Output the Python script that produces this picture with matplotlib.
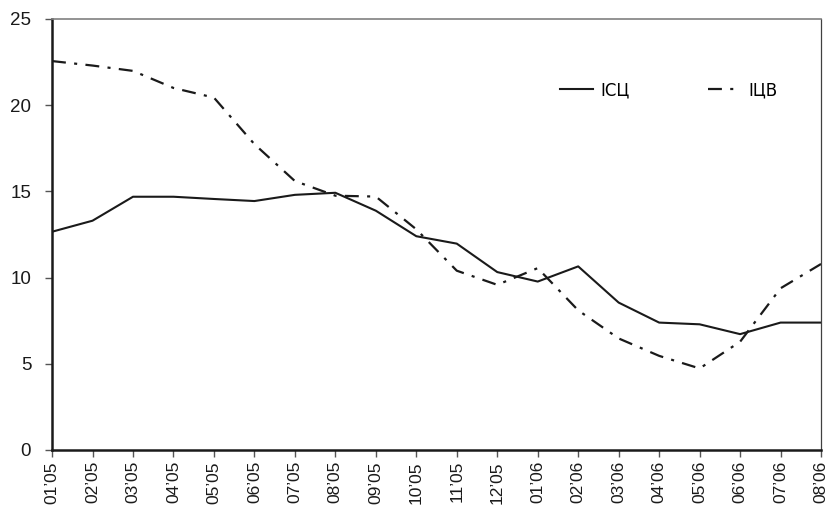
import numpy as np
import matplotlib
matplotlib.use("Agg")
import matplotlib.pyplot as plt

# місяці 01'05 - 08'06
months = ["01’05", "02’05", "03’05", "04’05", "05’05", "06’05", "07’05", "08’05",
          "09’05", "10’05", "11’05", "12’05", "01’06", "02’06", "03’06", "04’06",
          "05’06", "06’06", "07’06", "08’06"]

isc = [12.66, 13.3, 14.69, 14.69, 14.56, 14.44, 14.8, 14.92, 13.88, 12.4,
       11.97, 10.32, 9.77, 10.65, 8.55, 7.39, 7.29, 6.72, 7.39, 7.39]

icv = [22.56, 22.3, 21.99, 21.0, 20.44, 17.74, 15.6, 14.75, 14.7, 12.8,
       10.4, 9.58, 10.55, 8.1, 6.47, 5.46, 4.73, 6.28, 9.38, 10.79]

series_names = ["ІСЦ", "ІЦВ"]

plt.rcParams["lines.scale_dashes"] = False

fig = plt.figure(figsize=(8.26, 5.08), dpi=100)
ax = fig.add_axes([0.063, 0.1142, 0.931, 0.8484])

x = np.arange(len(months))
ax.plot(x, isc, color="#1a1a1a", lw=1.5, label=series_names[0])
ax.plot(x, icv, color="#1a1a1a", lw=1.6, linestyle=(0, (10, 6, 2.2, 6)),
        label=series_names[1])

ax.set_xlim(0, len(months) - 1)
ax.set_ylim(0, 25)
ax.set_yticks([0, 5, 10, 15, 20, 25])
ax.set_xticks(x)
ax.set_xticklabels(months, rotation=90, fontsize=12.5, family="Liberation Sans")
for lab in ax.get_yticklabels():
    lab.set_fontsize(13.5)
    lab.set_family("Liberation Sans")

ax.spines["left"].set_linewidth(1.8)
ax.spines["left"].set_color("#1a1a1a")
ax.spines["bottom"].set_linewidth(1.8)
ax.spines["bottom"].set_color("#1a1a1a")
ax.spines["top"].set_linewidth(1.2)
ax.spines["top"].set_color("#808080")
ax.spines["right"].set_linewidth(0.9)
ax.spines["right"].set_color("#404040")

ax.tick_params(axis="y", direction="out", length=5, width=1, color="#555555",
               pad=10, labelcolor="#1a1a1a")
ax.tick_params(axis="x", direction="out", length=5, width=1, color="#555555",
               pad=3, labelcolor="#1a1a1a")

leg = ax.legend(loc="center left", bbox_to_anchor=(0.66, 0.835), ncol=2, frameon=False,
                borderaxespad=0, borderpad=0,
                handlelength=2.0, columnspacing=4.7, handletextpad=0.45,
                prop={"family": ["Liberation Sans Narrow", "DejaVu Sans Condensed", "DejaVu Sans"],
                      "size": 12})

fig.savefig("out.png", dpi=100)
